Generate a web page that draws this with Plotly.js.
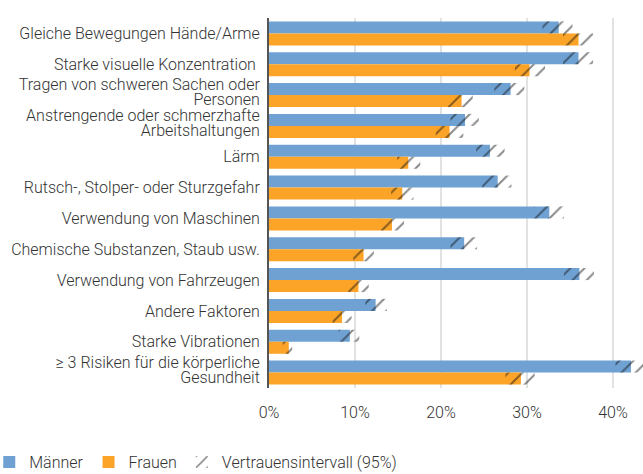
<!DOCTYPE html>
<html>
<head>
<meta charset="utf-8">
<script src="https://cdn.plot.ly/plotly-3.0.1.min.js"></script>
<style>html,body{margin:0;padding:0;background:#fff}#chart{width:643px;height:474px}</style>
</head>
<body>
<div id="chart"></div>
<script>
const categories = [
  "Gleiche Bewegungen Hände/Arme",
  "Starke visuelle Konzentration\u00a0",
  "Tragen von schweren Sachen oder<br>Personen",
  "Anstrengende oder schmerzhafte<br>Arbeitshaltungen",
  "Lärm",
  "Rutsch-, Stolper- oder Sturzgefahr",
  "Verwendung von Maschinen",
  "Chemische Substanzen, Staub usw.",
  "Verwendung von Fahrzeugen",
  "Andere Faktoren",
  "Starke Vibrationen",
  "≥ 3 Risiken für die körperliche<br>Gesundheit"
];
const maenner    = [33.7, 36.0, 28.1, 22.8, 25.7, 26.6, 32.6, 22.7, 36.1, 12.4, 9.4, 42.1];
const maennerLo  = [31.8, 34.2, 26.2, 21.1, 24.1, 24.8, 30.8, 21.1, 34.3, 11.2, 8.1, 40.3];
const maennerHi  = [35.3, 37.7, 29.7, 24.4, 27.4, 28.2, 34.3, 24.2, 37.8, 13.7, 10.5, 43.5];
const frauen     = [36.0, 30.3, 22.4, 21.0, 16.2, 15.5, 14.3, 11.0, 10.4, 8.5, 2.3, 29.3];
const frauenLo   = [34.2, 28.6, 20.8, 19.4, 14.9, 14.2, 13.0, 9.8, 9.2, 7.4, 1.6, 27.5];
const frauenHi   = [37.7, 32.1, 23.7, 22.6, 17.6, 16.8, 15.7, 12.2, 11.6, 9.6, 2.7, 30.9];
const xTickVals  = [0, 10, 20, 30, 40];
const xTickText  = ["0%", "10%", "20%", "30%", "40%"];

const blue = "#6fa2d3", orange = "#fca427";
const ciPattern = {shape: "/", fgcolor: "#111", bgcolor: "rgba(0,0,0,0)", size: 10, solidity: 0.2, fillmode: "overlay"};

const traces = [
  {type: "bar", orientation: "h", name: "Männer", y: categories, x: maenner, offsetgroup: "m",
   marker: {color: blue, line: {width: 0}}, hoverinfo: "x"},
  {type: "bar", orientation: "h", name: "Frauen", y: categories, x: frauen, offsetgroup: "f",
   marker: {color: orange, line: {width: 0}}, hoverinfo: "x"},
  {type: "bar", orientation: "h", name: "Vertrauensintervall (95%)", y: categories,
   base: maennerLo, x: maennerHi.map((h, i) => h - maennerLo[i]), offsetgroup: "m",
   marker: {color: "rgba(0,0,0,0)", line: {width: 0}, pattern: ciPattern}, hoverinfo: "skip", legendgroup: "ci"},
  {type: "bar", orientation: "h", name: "Vertrauensintervall (95%)", y: categories,
   base: frauenLo, x: frauenHi.map((h, i) => h - frauenLo[i]), offsetgroup: "f", showlegend: false,
   marker: {color: "rgba(0,0,0,0)", line: {width: 0}, pattern: ciPattern}, hoverinfo: "skip", legendgroup: "ci"}
];

const layout = {
  width: 643, height: 474,
  margin: {l: 269, r: 0, t: 18, b: 86, autoexpand: false},
  paper_bgcolor: "#fff", plot_bgcolor: "#fff",
  font: {family: "Roboto, 'Open Sans', sans-serif", size: 16, color: "#333", weight: 300},
  barmode: "group", bargap: 0.22, bargroupgap: 0,
  xaxis: {range: [0, 43.5], tickvals: xTickVals, ticktext: xTickText, showgrid: true,
          gridcolor: "#e2e2e2", gridwidth: 2, zeroline: false, showline: false,
          ticks: "", ticklabelstandoff: 13, fixedrange: true, automargin: false},
  yaxis: {type: "category", autorange: "reversed", showline: true, linecolor: "#555", linewidth: 2,
          ticks: "", showgrid: false, ticklabelstandoff: 4, fixedrange: true, automargin: false},
  legend: {orientation: "h", xref: "paper", yref: "paper", x: -0.748, y: -0.2,
           xanchor: "left", yanchor: "middle", font: {size: 16, color: "#333"},
           traceorder: "normal", itemwidth: 30},
  showlegend: true
};

Plotly.newPlot("chart", traces, layout, {displayModeBar: false, staticPlot: true}).then(function () {
  // tighter line spacing for wrapped category labels, as in the reference
  document.querySelectorAll("#chart .ytick text").forEach(function (t) {
    const lines = t.querySelectorAll("tspan.line");
    if (lines.length > 1) {
      lines.forEach(function (ln, i) { if (i > 0) ln.setAttribute("dy", "0.95em"); });
      const y = parseFloat(t.getAttribute("y") || "0");
      t.setAttribute("y", y + 0.175 * 16 * (lines.length - 1));
    }
  });
});
</script>
</body>
</html>
